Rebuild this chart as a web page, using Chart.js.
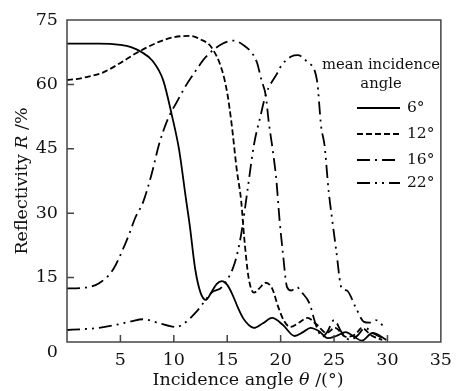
<!DOCTYPE html>
<html>
<head>
<meta charset="utf-8">
<script src="https://cdn.jsdelivr.net/npm/chart.js@4.4.1/dist/chart.umd.min.js"></script>
<style>
    html, body { margin: 0; padding: 0; background: #fff; }
    #wrap { width: 460px; height: 391px; position: relative; }
</style>
</head>
<body>
<div id="wrap"><canvas id="reflChart"></canvas></div>
<script>
// values
const angle6 = [0, 3, 5, 6, 7, 8, 9, 9.8, 10.5, 11.1, 11.5, 12, 12.5, 13, 13.5, 14, 14.5, 15, 15.5, 16, 16.5, 17, 17.5, 18.3, 19.2, 20.2, 21.3, 22.1, 22.8, 23.6, 24.4, 25.2, 26.1, 26.9, 27.6, 28.6, 29.9];
const refl6 = [69.5, 69.5, 69.2, 68.7, 67.5, 65.5, 61, 53, 44.7, 34, 27, 17, 11.5, 9.8, 11.5, 13.5, 14.2, 13.3, 11, 8, 5.5, 4, 3.3, 4.3, 5.6, 4, 1.4, 2.3, 3.3, 2.5, 0.9, 1.4, 2.3, 1.2, 0.3, 2.1, 0.5];

const angle12 = [0, 1, 2, 3.3, 5, 6.5, 8.6, 10, 11.5, 12.5, 13.5, 14.5, 15, 15.4, 15.9, 16.3, 16.6, 17, 17.5, 18, 18.6, 19.2, 19.8, 20.3, 20.9, 21.7, 22.5, 23.4, 24.3, 25.1, 26.1, 27, 27.6, 28.5, 29.5];
const refl12 = [61, 61.3, 61.8, 62.7, 65, 67.3, 69.9, 71, 71.3, 70.5, 68.7, 63.4, 58, 51, 40, 33, 24, 15, 11.5, 12.5, 13.8, 12.5, 8, 5, 3.5, 4.5, 5.6, 4, 2.1, 3.3, 1.2, 1.8, 3.3, 1.5, 0.5];

const angle16 = [0, 1.5, 3, 4.3, 5.2, 5.8, 6.4, 7.1, 7.9, 8.6, 9.4, 10.3, 11.2, 12, 13, 14.5, 15.6, 16.6, 17.4, 17.8, 18.2, 18.6, 18.9, 19.3, 19.6, 19.9, 20.2, 20.6, 21, 21.5, 22, 22.7, 23.3, 23.9, 24.4, 25, 25.7, 26.5, 27.2, 27.9, 28.7, 29.5];
const refl16 = [12.5, 12.6, 13.7, 16.8, 21.4, 25, 29, 32.4, 38.9, 45.9, 51.7, 56, 60, 63, 66.4, 69.4, 70.2, 69, 67, 65, 61, 57.5, 51, 44, 37.7, 28.4, 21, 12.8, 12, 12.8, 11.5, 9, 4, 1.2, 2.5, 5.1, 2.3, 0.5, 1.5, 3.3, 2, 1];

const angle22 = [0, 1.5, 3, 4.6, 6, 7.1, 8.6, 10.2, 11, 12.1, 13.6, 14.5, 15.7, 16.3, 16.9, 17.5, 18.1, 18.6, 19.7, 20.1, 21, 21.6, 22.5, 23.4, 23.8, 24.1, 24.5, 24.8, 25.2, 25.7, 26.2, 27, 27.8, 28.3, 28.9, 29.7];
const refl22 = [2.8, 3, 3.3, 4, 4.8, 5.3, 4.4, 3.5, 4.4, 7, 11.6, 12.8, 18.4, 25, 35.4, 45.9, 52.5, 57.5, 62.7, 64.5, 66.5, 66.8, 65.2, 61, 50, 46, 35, 29, 21.4, 12.6, 12, 8.2, 4.7, 4.5, 5.1, 3.5];

const seriesLabels = ['6°', '12°', '16°', '22°'];
const legendHeading = ['mean incidence', 'angle'];
const xTickValues = [5, 10, 15, 20, 25, 30];
const yTickValues = [15, 30, 45, 60];

const serif = '"DejaVu Serif", "Liberation Serif", serif';
const textColor = '#111';

function toPoints(xs, ys) {
    return xs.map((x, i) => ({ x: x, y: ys[i] }));
}

// box around the plot with tick marks pointing inwards
const framePlugin = {
    id: 'frame',
    afterDraw(chart) {
        const { ctx, chartArea: a, scales } = chart;
        ctx.save();
        ctx.strokeStyle = '#444';
        ctx.lineWidth = 1.5;
        ctx.strokeRect(a.left, a.top, a.right - a.left, a.bottom - a.top);
        ctx.beginPath();
        xTickValues.forEach(v => {
            const px = scales.x.getPixelForValue(v);
            ctx.moveTo(px, a.bottom);
            ctx.lineTo(px, a.bottom - 7);
        });
        yTickValues.forEach(v => {
            const py = scales.y.getPixelForValue(v);
            ctx.moveTo(a.left, py);
            ctx.lineTo(a.left + 7, py);
        });
        ctx.stroke();

        // the zero of the y axis sits a little lower than the axis line
        ctx.fillStyle = textColor;
        ctx.font = '17.5px ' + serif;
        ctx.textAlign = 'right';
        ctx.textBaseline = 'middle';
        ctx.fillText('0', a.left - 9, scales.y.getPixelForValue(0) + 10);
        ctx.restore();
    }
};

// axis titles with italic symbols
function drawMixed(ctx, parts, cx, cy) {
    let total = 0;
    parts.forEach(p => {
        ctx.font = (p.italic ? 'italic ' : '') + '17.5px ' + serif;
        p.w = ctx.measureText(p.text).width;
        total += p.w;
    });
    let x = cx - total / 2;
    parts.forEach(p => {
        ctx.font = (p.italic ? 'italic ' : '') + '17.5px ' + serif;
        ctx.fillText(p.text, x, cy);
        x += p.w;
    });
}

const titlePlugin = {
    id: 'axisTitles',
    afterDraw(chart) {
        const { ctx, chartArea: a } = chart;
        ctx.save();
        ctx.fillStyle = textColor;
        ctx.textBaseline = 'middle';
        ctx.textAlign = 'left';
        drawMixed(ctx, [
            { text: 'Incidence angle ' },
            { text: 'θ', italic: true },
            { text: ' /(°)' }
        ], 248, 380);
        ctx.translate(22, (a.top + a.bottom) / 2);
        ctx.rotate(-Math.PI / 2);
        drawMixed(ctx, [
            { text: 'Reflectivity ' },
            { text: 'R', italic: true },
            { text: ' /%' }
        ], 0, 0);
        ctx.restore();
    }
};

// legend with heading, inside the plot at top right
const legendPlugin = {
    id: 'boxLegend',
    afterDraw(chart) {
        const { ctx } = chart;
        ctx.save();
        ctx.fillStyle = textColor;
        ctx.textBaseline = 'middle';
        ctx.font = '14.8px ' + serif;
        ctx.textAlign = 'center';
        ctx.fillText(legendHeading[0], 381, 65);
        ctx.fillText(legendHeading[1], 381, 84);
        const rows = [108, 134, 160, 183];
        chart.data.datasets.forEach((ds, i) => {
            ctx.strokeStyle = '#000';
            ctx.lineWidth = 2;
            ctx.setLineDash(ds.borderDash || []);
            ctx.beginPath();
            ctx.moveTo(357, rows[i]);
            ctx.lineTo(400, rows[i]);
            ctx.stroke();
            ctx.setLineDash([]);
            ctx.textAlign = 'left';
            ctx.font = '15.5px ' + serif;
            ctx.fillText(ds.label, 407, rows[i]);
        });
        ctx.restore();
    }
};

const ctx = document.getElementById('reflChart').getContext('2d');

const lineStyle = {
    borderColor: '#000',
    borderWidth: 1.8,
    pointRadius: 0,
    fill: false,
    cubicInterpolationMode: 'monotone'
};

new Chart(ctx, {
    type: 'line',
    data: {
        datasets: [
            { ...lineStyle, label: seriesLabels[0], data: toPoints(angle6, refl6), borderDash: [] },
            { ...lineStyle, label: seriesLabels[1], data: toPoints(angle12, refl12), borderDash: [6, 3] },
            { ...lineStyle, label: seriesLabels[2], data: toPoints(angle16, refl16), borderDash: [13, 5, 2, 5] },
            { ...lineStyle, label: seriesLabels[3], data: toPoints(angle22, refl22), borderDash: [13, 5, 2, 5, 2, 5] }
        ]
    },
    options: {
        responsive: true,
        maintainAspectRatio: false,
        animation: false,
        layout: {
            padding: { top: 20, right: 16, left: 0, bottom: 0 }
        },
        scales: {
            x: {
                type: 'linear',
                min: 0,
                max: 35,
                grid: { display: false, drawTicks: false },
                border: { display: false },
                afterFit(scale) { scale.height = 49; },
                ticks: {
                    stepSize: 5,
                    padding: 8,
                    color: textColor,
                    font: { family: serif, size: 17.5 },
                    maxRotation: 0,
                    callback: v => (v === 0 ? '' : v)
                }
            },
            y: {
                min: 0,
                max: 75,
                grid: { display: false, drawTicks: false },
                border: { display: false },
                afterFit(scale) { scale.width = 67; },
                ticks: {
                    stepSize: 15,
                    padding: 9,
                    color: textColor,
                    font: { family: serif, size: 17.5 },
                    callback: v => (v === 0 ? '' : v)
                }
            }
        },
        plugins: {
            legend: { display: false },
            tooltip: { enabled: false }
        }
    },
    plugins: [framePlugin, titlePlugin, legendPlugin]
});
</script>
</body>
</html>
